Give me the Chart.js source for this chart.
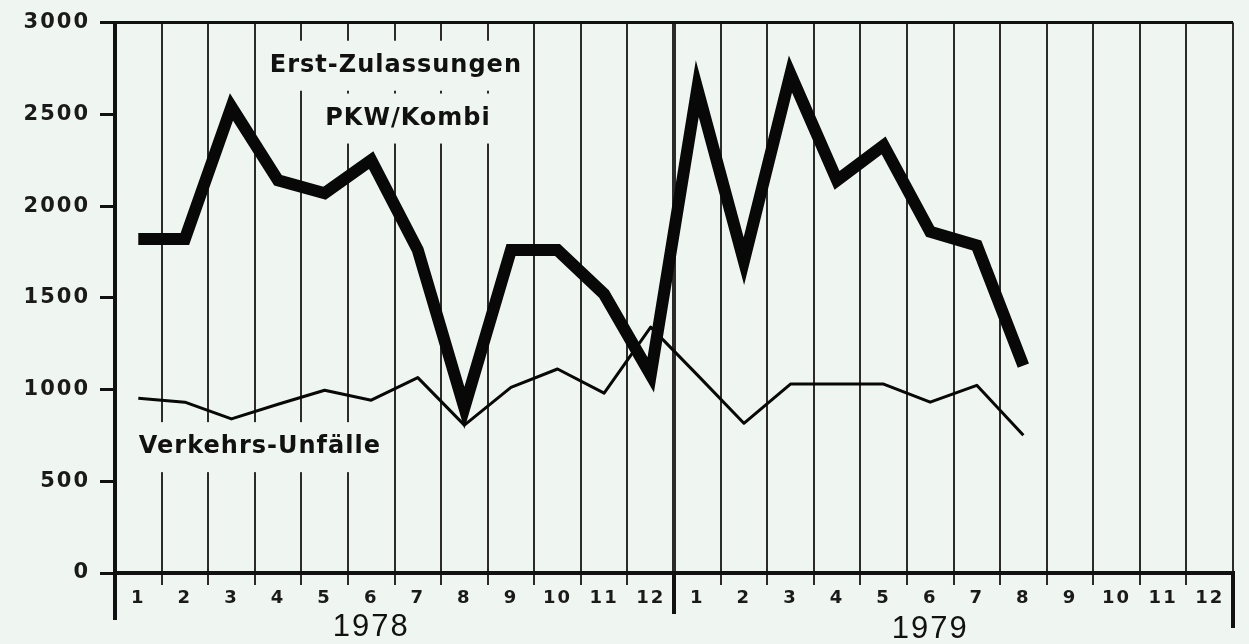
<!DOCTYPE html>
<html>
<head>
<meta charset="utf-8">
<script src="https://cdn.jsdelivr.net/npm/chart.js@4.4.1/dist/chart.umd.min.js"></script>
<style>
  html, body { margin: 0; padding: 0; background: #eff5f0; }
  #chart { display: block; }
</style>
</head>
<body>
<canvas id="chart" width="1249" height="644"></canvas>
<script>
// Monate 1978 und 1979
const months = ['1','2','3','4','5','6','7','8','9','10','11','12',
                '1','2','3','4','5','6','7','8','9','10','11','12'];
const years = ['1978', '1979'];
const yTicks = [0, 500, 1000, 1500, 2000, 2500, 3000];

// Erst-Zulassungen PKW/Kombi
const zulassungen = [1820, 1820, 2540, 2140, 2070, 2250, 1760, 900, 1760, 1760, 1520, 1080,
                     2640, 1700, 2720, 2140, 2330, 1860, 1785, 1130, null, null, null, null];
// Verkehrs-Unfälle
const unfaelle = [953, 931, 840, 920, 996, 942, 1065, 806, 1012, 1112, 980, 1340,
                  1080, 816, 1030, 1030, 1030, 931, 1023, 751, null, null, null, null];

// Beschriftungen im Diagramm (Position in Monat / Wert)
const labels = [
    { text: 'Erst-Zulassungen', x: 5.53, y: 2765 },
    { text: 'PKW/Kombi', x: 5.79, y: 2477 },
    { text: 'Verkehrs-Unfälle', x: 2.61, y: 686 }
];

const ink = '#111111';
const gridInk = '#2b2b2b';
const paper = '#eff5f0';

const decor = {
    id: 'decor',
    beforeDraw(chart) {
        chart.ctx.letterSpacing = '2px';
    },
    beforeDatasetsDraw(chart) {
        const ctx = chart.ctx;
        const x = chart.scales.x, y = chart.scales.y;
        ctx.save();
        ctx.letterSpacing = '1px';
        ctx.font = 'bold 24px "DejaVu Sans"';
        ctx.textAlign = 'center';
        ctx.textBaseline = 'middle';
        labels.forEach(l => {
            const px = x.getPixelForValue(l.x);
            const py = y.getPixelForValue(l.y);
            const w = ctx.measureText(l.text).width;
            ctx.fillStyle = paper;
            ctx.fillRect(px - w / 2 - 5, py - 25, w + 10, 50);
            ctx.fillStyle = ink;
            ctx.fillText(l.text, px, py);
        });
        ctx.restore();
    },
    afterDraw(chart) {
        const ctx = chart.ctx;
        const ca = chart.chartArea;
        const x = chart.scales.x;
        ctx.save();
        ctx.letterSpacing = '2px';
        ctx.strokeStyle = ink;
        ctx.lineWidth = 4;
        const yearLine = (x.getPixelForValue(11) + x.getPixelForValue(12)) / 2;
        [[ca.left, 47], [yearLine, 41], [ca.right, 55]].forEach(([px, len]) => {
            ctx.beginPath();
            ctx.moveTo(px, ca.bottom);
            ctx.lineTo(px, ca.bottom + len);
            ctx.stroke();
        });
        ctx.fillStyle = ink;
        ctx.font = '31px "Liberation Sans"';
        ctx.textAlign = 'center';
        ctx.textBaseline = 'middle';
        ctx.fillText(years[0], x.getPixelForValue(5), ca.bottom + 54);
        ctx.fillText(years[1], x.getPixelForValue(17), ca.bottom + 56);
        ctx.restore();
        ctx.letterSpacing = '0px';
    }
};

const ctx = document.getElementById('chart').getContext('2d');
new Chart(ctx, {
    type: 'line',
    data: {
        labels: months,
        datasets: [{
            label: 'Erst-Zulassungen PKW/Kombi',
            data: zulassungen,
            borderColor: '#080808',
            borderWidth: 12,
            borderJoinStyle: 'miter',
            borderCapStyle: 'butt',
            pointRadius: 0,
            tension: 0
        }, {
            label: 'Verkehrs-Unfälle',
            data: unfaelle,
            borderColor: '#080808',
            borderWidth: 3,
            borderJoinStyle: 'round',
            pointRadius: 0,
            tension: 0
        }]
    },
    options: {
        responsive: false,
        animation: false,
        devicePixelRatio: 1,
        layout: { padding: { top: 22, right: 16, left: 0, bottom: 0 } },
        plugins: {
            legend: { display: false },
            tooltip: { enabled: false }
        },
        scales: {
            x: {
                offset: true,
                afterFit: s => { s.height = 71; },
                border: { display: true, color: ink, width: 4 },
                grid: {
                    offset: true,
                    color: gridInk,
                    tickColor: gridInk,
                    lineWidth: c => (c.index === 0 || c.index === 12 || c.index === 24) ? 4 : 2,
                    tickLength: 12
                },
                ticks: {
                    color: '#1a1a1a',
                    font: { family: 'DejaVu Sans', size: 18, weight: 'bold' },
                    padding: 3,
                    autoSkip: false,
                    maxRotation: 0
                }
            },
            y: {
                min: 0,
                max: 3000,
                afterFit: s => { s.width = 115; },
                afterBuildTicks: s => { s.ticks = yTicks.map(v => ({ value: v })); },
                border: { display: true, color: ink, width: 4 },
                grid: {
                    color: c => (c.tick && c.tick.value === 3000) ? ink : 'rgba(0,0,0,0)',
                    tickColor: ink,
                    lineWidth: 3,
                    tickLength: 15
                },
                ticks: {
                    color: '#1a1a1a',
                    font: { family: 'DejaVu Sans', size: 21, weight: 'bold' },
                    padding: 10,
                    callback: v => String(v)
                }
            }
        }
    },
    plugins: [decor]
});
</script>
</body>
</html>
